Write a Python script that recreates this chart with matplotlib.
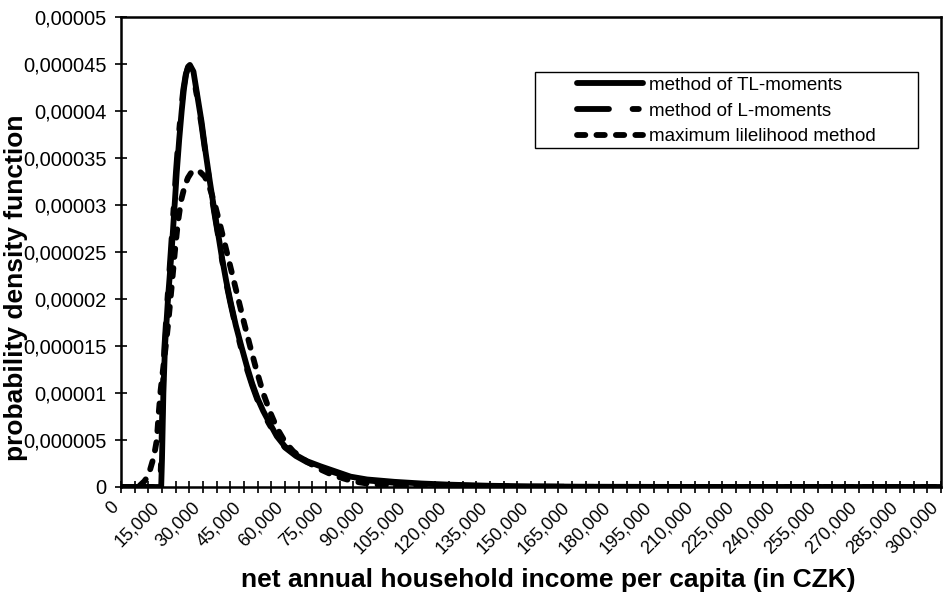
import matplotlib
matplotlib.use("Agg")
import matplotlib.pyplot as plt
import matplotlib.transforms as mtransforms
from matplotlib.ticker import MultipleLocator, FuncFormatter
from matplotlib.patches import Rectangle

plt.rcParams['font.family'] = ['Liberation Sans', 'DejaVu Sans']
plt.rcParams['lines.scale_dashes'] = False

# --- data (income in CZK, density values in units of 1e-6) ---
tl_x = [0, 14700, 15000, 15500, 16100, 17300, 18500, 19400, 20400, 21300, 22200, 23000,
        23800, 24500, 25200, 26500, 28000, 29500, 31000, 32500, 34000, 35500, 37000,
        38500, 40000, 42000, 44000, 46000, 48000, 50000, 52000, 54000, 57000, 60000,
        64000, 68000, 73000, 78000, 84000, 90000, 100000, 110000, 120000, 135000,
        150000, 170000, 200000, 250000, 300000]
tl_y = [0, 0, 3.0, 10.0, 15.0, 20.5, 25.0, 29.0, 33.5, 37.0, 40.0, 42.3,
        43.9, 44.7, 44.9, 44.2, 41.5, 38.8, 35.5, 32.5, 29.7, 27.0, 24.3,
        21.9, 19.8, 17.2, 15.0, 12.9, 11.0, 9.4, 8.1, 7.0, 5.4, 4.3,
        3.4, 2.75, 2.2, 1.7, 1.1, 0.8, 0.55, 0.37, 0.25, 0.13,
        0.07, 0.03, 0.01, 0.003, 0.001]

lm_x = [0, 14300, 14700, 15200, 15800, 17000, 18200, 19100, 20100, 21000, 22000, 22800,
        23700, 24400, 25100, 26400, 28000, 29500, 31000, 32500, 34000, 35500, 37000,
        38500, 40000, 42000, 44000, 46000, 48000, 50000, 52000, 54000, 57000, 60000,
        64000, 68000, 73000, 78000, 84000, 90000, 100000, 110000, 120000, 135000,
        150000, 170000, 200000, 250000, 300000]
lm_y = [0, 0, 3.0, 9.5, 14.5, 20.0, 25.0, 29.0, 33.5, 37.0, 40.2, 42.3,
        43.9, 44.5, 44.6, 43.9, 41.2, 38.4, 35.3, 32.2, 29.4, 26.8, 24.1,
        21.7, 19.6, 17.0, 14.7, 12.6, 10.8, 9.2, 7.9, 6.8, 5.3, 4.2,
        3.3, 2.65, 2.05, 1.55, 1.0, 0.7, 0.45, 0.28, 0.17, 0.08,
        0.04, 0.015, 0.005, 0.001, 0]

ml_x = [0, 6000, 7000, 8500, 9500, 10700, 11700, 12500, 13100, 13700, 14500, 15500,
        16500, 17300, 18500, 19700, 20800, 22000, 23300, 24500, 25800, 27400, 29000,
        30700, 32500, 34400, 36500, 38700, 40800, 42900, 45000, 47200, 49500, 52000,
        54500, 57000, 60000, 63000, 67000, 72000, 78000, 85000, 92000, 100000, 110000,
        120000, 135000, 300000]
ml_y = [0, 0, 0.2, 0.6, 1.0, 1.9, 2.9, 4.0, 5.0, 7.5, 10.3, 12.8,
        15.3, 17.5, 21.2, 25.0, 28.1, 30.5, 32.0, 32.9, 33.5, 33.7, 33.5,
        33.0, 31.8, 30.0, 27.6, 25.0, 22.5, 20.0, 17.5, 15.0, 12.5, 10.0,
        8.0, 6.3, 4.8, 3.8, 2.9, 2.0, 1.2, 0.6, 0.28, 0.12, 0.04,
        0.01, 0, 0]

series_labels = ["method of TL-moments", "method of L-moments", "maximum lilelihood method"]

fig = plt.figure(figsize=(9.43, 5.93), dpi=100)
ax = fig.add_axes([121/943, 106/593, 820/943, 470/593])

scale = 1e-6
lw = 4.2
ax.plot(tl_x, [v*scale for v in tl_y], color='black', lw=lw, solid_capstyle='round',
        solid_joinstyle='round', label=series_labels[0], zorder=3)
ax.plot(lm_x, [v*scale for v in lm_y], color='black', lw=lw,
        linestyle=(0, (23, 17, 4.5, 17)), dash_capstyle='round',
        label=series_labels[1], zorder=4)
ax.plot(ml_x, [v*scale for v in ml_y], color='black', lw=lw,
        linestyle=(0, (6, 8)), dash_capstyle='round',
        label=series_labels[2], zorder=5)

ax.set_xlim(0, 300000)
ax.set_ylim(0, 0.00005)

ax.xaxis.set_major_locator(MultipleLocator(15000))
ax.xaxis.set_minor_locator(MultipleLocator(5000))
ax.yaxis.set_major_locator(MultipleLocator(0.000005))

def yfmt(v, pos):
    if abs(v) < 1e-12:
        return "0"
    return f"{v:.6f}".rstrip('0').replace('.', ',')

def xfmt(v, pos):
    return f"{int(round(v)):,}"

ax.yaxis.set_major_formatter(FuncFormatter(yfmt))
ax.xaxis.set_major_formatter(FuncFormatter(xfmt))

ax.tick_params(axis='both', which='both', direction='inout', length=9, width=1.2,
               colors='black')
ax.tick_params(axis='x', which='major', pad=4, labelsize=13)
ax.tick_params(axis='y', which='major', pad=6, labelsize=14.5)
ax.tick_params(top=False, right=False)

shift = mtransforms.ScaledTranslation(-11/100, 0, fig.dpi_scale_trans)
for lab in ax.get_xticklabels():
    lab.set_rotation(45)
    lab.set_ha('right')
    lab.set_rotation_mode('anchor')
    lab.set_transform(lab.get_transform() + shift)

for s in ax.spines.values():
    s.set_linewidth(1.8)
    s.set_color('black')

ax.set_xlabel("net annual household income per capita (in CZK)", fontsize=19,
              fontweight='bold')
ax.xaxis.set_label_coords(0.521, -0.2128)
ax.xaxis.label.set_va('baseline')
ax.set_ylabel("probability density function", fontsize=19, fontweight='bold')
ax.yaxis.set_label_coords(-0.1134, 0.423)

# legend box (Excel style, wide frame)
box_x0, box_x1 = (535-121)/820, (918-121)/820
box_y0, box_y1 = (487-148)/470, (487-72)/470
ax.add_patch(Rectangle((box_x0, box_y0), box_x1-box_x0, box_y1-box_y0,
                       transform=ax.transAxes, facecolor='white', edgecolor='black',
                       lw=1.0, zorder=6))
leg = ax.legend(loc='center left', bbox_to_anchor=((577-121)/820, (487-111)/470),
                fontsize=13.5, frameon=False, handlelength=3.5, borderpad=0,
                labelspacing=0.45, handletextpad=0.35, borderaxespad=0)
leg.set_zorder(7)

fig.savefig("out.png", dpi=100)
